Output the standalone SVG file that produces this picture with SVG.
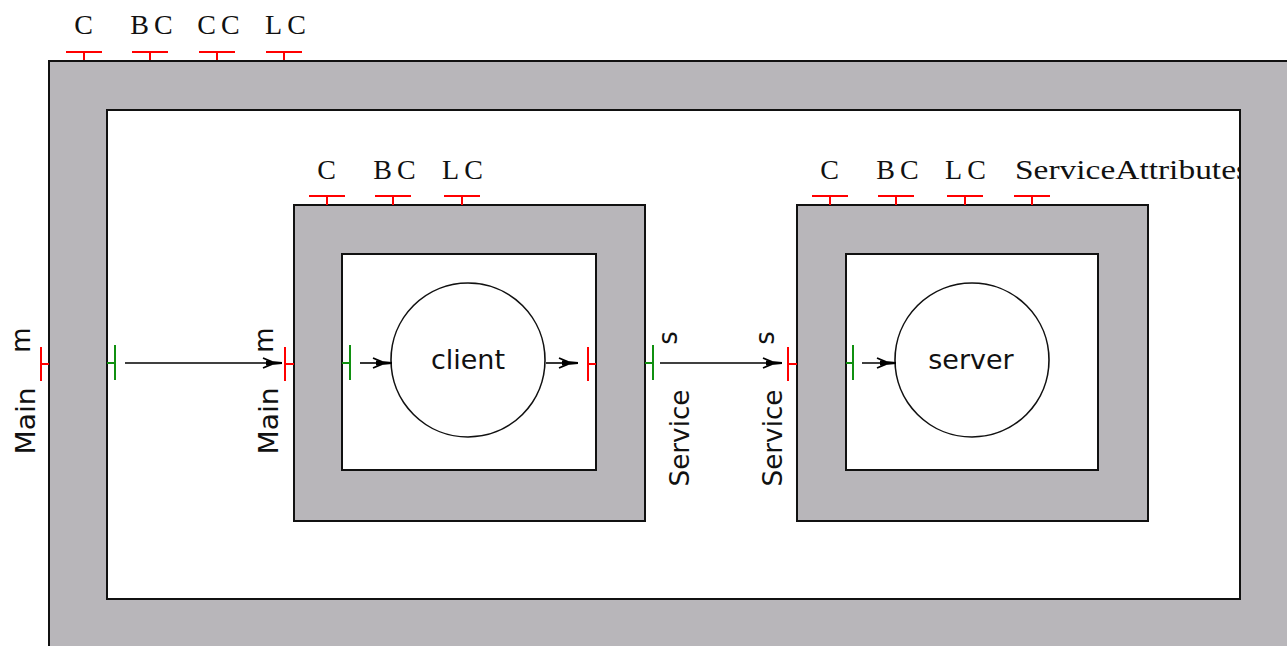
<svg xmlns="http://www.w3.org/2000/svg" width="1287" height="646" viewBox="0 0 1287 646">
  <style>
    .frame { fill: #b8b6ba; stroke: #111; stroke-width: 2; }
    .body { fill: #fff; stroke: #111; stroke-width: 2; }
    .proc { fill: #fff; stroke: #111; stroke-width: 1.6; }
    .req { fill: none; stroke: #ff0000; stroke-width: 2; }
    .prov { fill: none; stroke: #109010; stroke-width: 2; }
    .wire { fill: none; stroke: #000; stroke-width: 1.6; }
    .attr { font-family: "Liberation Serif", serif; font-size: 28px; letter-spacing: 5px; fill: #111; }
    .attrs { font-family: "Liberation Serif", serif; font-size: 27px; fill: #111; }
    .name { font-family: "DejaVu Sans", sans-serif; font-size: 27px; fill: #111; }
    .port { font-family: "DejaVu Sans", sans-serif; font-size: 26px; fill: #111; }
  </style>
  <defs>
    <marker id="head" viewBox="0 0 20 12" refX="20" refY="6" markerWidth="20" markerHeight="12" markerUnits="userSpaceOnUse" orient="auto">
      <path d="M4,3.5 L20,5 L20,7 L4,8.5 z" fill="#000"/>
      <path d="M1,1 L10,4.8 M1,11 L10,7.2" stroke="#000" stroke-width="1.8" fill="none"/>
    </marker>
    <clipPath id="innerClip">
      <rect x="0" y="0" width="1239" height="646"/>
    </clipPath>
  </defs>

  <!-- composite Main -->
  <g id="main">
    <rect class="frame" x="49" y="61" width="1300" height="700"/>
    <rect class="body" x="107" y="110" width="1133" height="489"/>
    <!-- attribute ports -->
    <path class="req" d="M66,52 H102 M84,52 V60"/>
    <path class="req" d="M132,52 H168 M150,52 V60"/>
    <path class="req" d="M199,52 H235 M217,52 V60"/>
    <path class="req" d="M266,52 H302 M284,52 V60"/>
    <text class="attr" x="86" y="34" text-anchor="middle">C</text>
    <text class="attr" x="154" y="34" text-anchor="middle">BC</text>
    <text class="attr" x="221" y="34" text-anchor="middle">CC</text>
    <text class="attr" x="288" y="34" text-anchor="middle">LC</text>
    <!-- Main port, outside and inside -->
    <path class="req" d="M41,347 V381 M41,364 H49"/>
    <path class="prov" d="M115,345 V380 M107,363 H115"/>
    <text class="port" transform="translate(30,340) rotate(-90)" text-anchor="middle">m</text>
    <text class="port" transform="translate(35,421) rotate(-90)" text-anchor="middle" textLength="67" lengthAdjust="spacingAndGlyphs">Main</text>
  </g>

  <!-- component client -->
  <g id="client">
    <rect class="frame" x="294" y="205" width="351" height="316"/>
    <rect class="body" x="342" y="254" width="254" height="216"/>
    <circle class="proc" cx="468" cy="360" r="77"/>
    <text class="name" x="468" y="369" text-anchor="middle">client</text>
    <path class="req" d="M309,196 H345 M327,196 V205"/>
    <path class="req" d="M375,196 H411 M393,196 V205"/>
    <path class="req" d="M444,196 H480 M462,196 V205"/>
    <text class="attr" x="329" y="179" text-anchor="middle">C</text>
    <text class="attr" x="397" y="179" text-anchor="middle">BC</text>
    <text class="attr" x="465" y="179" text-anchor="middle">LC</text>
    <!-- Main port -->
    <path class="req" d="M285,347 V381 M285,364 H294"/>
    <path class="prov" d="M350,345 V380 M342,363 H350"/>
    <text class="port" transform="translate(273,340) rotate(-90)" text-anchor="middle">m</text>
    <text class="port" transform="translate(278,421) rotate(-90)" text-anchor="middle" textLength="67" lengthAdjust="spacingAndGlyphs">Main</text>
    <!-- Service port -->
    <path class="req" d="M588,347 V381 M588,364 H596"/>
    <path class="prov" d="M653,345 V380 M645,363 H653"/>
    <text class="port" transform="translate(677,338) rotate(-90)" text-anchor="middle">s</text>
    <text class="port" transform="translate(689,438) rotate(-90)" text-anchor="middle" textLength="97" lengthAdjust="spacingAndGlyphs">Service</text>
  </g>

  <!-- component server -->
  <g id="server">
    <rect class="frame" x="797" y="205" width="351" height="316"/>
    <rect class="body" x="846" y="254" width="252" height="216"/>
    <circle class="proc" cx="972" cy="360" r="77"/>
    <text class="name" x="971" y="369" text-anchor="middle">server</text>
    <path class="req" d="M812,196 H848 M830,196 V205"/>
    <path class="req" d="M878,196 H914 M896,196 V205"/>
    <path class="req" d="M947,196 H983 M965,196 V205"/>
    <path class="req" d="M1014,196 H1050 M1032,196 V205"/>
    <text class="attr" x="832" y="179" text-anchor="middle">C</text>
    <text class="attr" x="900" y="179" text-anchor="middle">BC</text>
    <text class="attr" x="968" y="179" text-anchor="middle">LC</text>
    <text class="attrs" x="1015" y="179" textLength="234" lengthAdjust="spacingAndGlyphs" clip-path="url(#innerClip)">ServiceAttributes</text>
    <!-- Service port -->
    <path class="req" d="M788,347 V381 M788,364 H797"/>
    <path class="prov" d="M853,345 V380 M846,363 H853"/>
    <text class="port" transform="translate(774,338) rotate(-90)" text-anchor="middle">s</text>
    <text class="port" transform="translate(782,438) rotate(-90)" text-anchor="middle" textLength="97" lengthAdjust="spacingAndGlyphs">Service</text>
  </g>

  <!-- connectors -->
  <g id="connectors">
    <path class="wire" d="M125,363 H282" marker-end="url(#head)"/>
    <path class="wire" d="M360,363 H392" marker-end="url(#head)"/>
    <path class="wire" d="M546,363 H578" marker-end="url(#head)"/>
    <path class="wire" d="M660,363 H782" marker-end="url(#head)"/>
    <path class="wire" d="M862,363 H896" marker-end="url(#head)"/>
  </g>
</svg>
